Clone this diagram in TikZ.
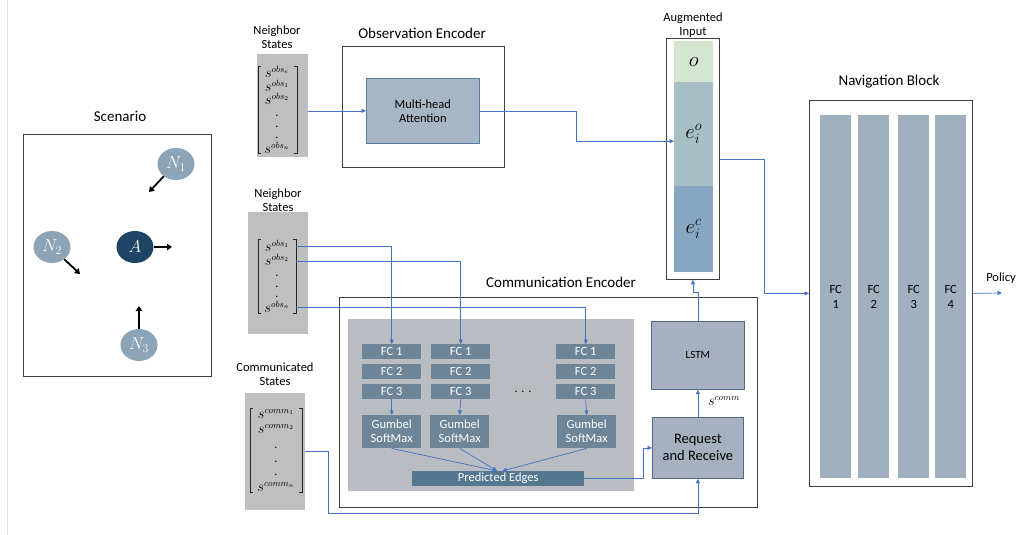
\documentclass[tikz,border=0pt]{standalone}
\usepackage{amsmath}
\usepackage{fontspec}
\setmainfont{Carlito}
\usetikzlibrary{arrows.meta,shapes.geometric}
\DeclareMathSizes{14}{14}{8.8}{6.5}
\definecolor{linkblue}{HTML}{4472C4}
\definecolor{boxline}{HTML}{404040}
\definecolor{stategray}{HTML}{BFBFBF}
\definecolor{regiongray}{HTML}{B9BDC1}
\definecolor{fcdark}{HTML}{6E8597}
\definecolor{pedark}{HTML}{557790}
\definecolor{navcol}{HTML}{A0B0BF}
\definecolor{attfill}{HTML}{A7B6C5}
\definecolor{attline}{HTML}{5B7BA6}
\definecolor{lstmfill}{HTML}{A7B0C0}
\definecolor{lstmline}{HTML}{4E6A8C}
\definecolor{nbfill}{HTML}{8DA3B6}
\definecolor{agentfill}{HTML}{1E4466}
\definecolor{augO}{HTML}{D4E5D0}
\definecolor{augEo}{HTML}{A9BFC6}
\definecolor{augEc}{HTML}{86A6C1}
\newcommand\fsT{\fontsize{15}{18}\selectfont}
\newcommand\fsL{\fontsize{12.5}{14}\selectfont}
\newcommand\fsLb{\fontsize{12.5}{15}\selectfont}
\newcommand\fsR{\fontsize{14.5}{17}\selectfont}
\newcommand\fsM{\fontsize{14}{14}\selectfont}
\newcommand\fsBig{\fontsize{17}{19}\selectfont}
\newcommand\fsAug{\fontsize{20}{22}\selectfont}
\newcommand\stv[2]{$s^{#1_{#2}}$}
\begin{document}
\begin{tikzpicture}[x=1pt,y=-1pt,
  lbl/.style={font=\fsL, align=center, inner sep=0},
  ttl/.style={font=\fsT, inner sep=0},
  panel/.style={draw=boxline, line width=0.8pt, inner sep=0, anchor=north west},
  graybox/.style={fill=stategray, inner sep=0, anchor=north west},
  link/.style={draw=linkblue, line width=0.7pt},
  arr/.style={link, -{Triangle[length=4.5pt,width=4pt]}},
  motion/.style={draw=black, line width=1.8pt, -{Triangle[length=5pt,width=6.5pt]}},
  nbnode/.style={ellipse, fill=nbfill, minimum width=37, minimum height=32, inner sep=0, text=white, font=\fsBig},
  agentnode/.style={ellipse, fill=agentfill, minimum width=37, minimum height=32, inner sep=0, text=white, font=\fsBig},
  fcbox/.style={fill=fcdark, text=white, font=\fsL, inner sep=0, anchor=north west, minimum width=59, minimum height=15},
  gsbox/.style={fill=fcdark, text=white, font=\fsL, align=center, inner sep=0, anchor=north west, minimum width=59, minimum height=33},
  navbox/.style={fill=navcol, font=\fsLb, align=center, inner sep=0, anchor=north west, minimum width=31, minimum height=363},
  seg/.style={inner sep=0, anchor=north west, minimum width=39, font=\fsAug},
  ent/.style={inner sep=0, font=\fsM},
  dotent/.style={inner sep=0, font=\fontsize{12}{12}\selectfont},
  brk/.style={draw=black!85, line width=0.9pt}
]
\useasboundingbox (0,0) rectangle (1030,535);
\fill[white] (0,0) rectangle (1030,535);
\draw[black!12, line width=0.8pt] (7,0) -- (7,535);

% ---------- Scenario ----------
\node[ttl] at (120,116) {Scenario};
\node[panel, minimum width=188, minimum height=242] (scen) at (23,134) {};
\node[nbnode] (n1) at (176,164) {$N_1$};
\node[agentnode] (a) at (135,247) {$A$};
\node[nbnode] (n2) at (52,247) {$N_2$};
\node[nbnode] (n3) at (139,345) {$N_3$};
\coordinate (n1t) at (149,192);
\coordinate (at) at (172,247);
\coordinate (n2t) at (80,274);
\coordinate (n3t) at (139,306);
\draw[motion] (n1.225) -- (n1t);
\draw[motion] (a.east) -- (at);
\draw[motion] (n2.-45) -- (n2t);
\draw[motion] (n3.north) -- (n3t);

% ---------- Neighbor states (top) ----------
\node[lbl] at (277,37) {Neighbor\\States};
\node[graybox, minimum width=51, minimum height=103] (nb1) at (257,54) {};
\draw[brk] (261,66) -- (258,66) -- (258,153) -- (261,153);
\draw[brk] (294,66) -- (297,66) -- (297,153) -- (294,153);
\node[ent] (e11) at (277,72) {\stv{obs}{e}};
\node[ent] (e12) at (277,86) {\stv{obs}{1}};
\node[ent] (e13) at (277,99) {\stv{obs}{2}};
\node[dotent] (e14) at (277,116) {.};
\node[dotent] (e15) at (277,127) {.};
\node[dotent] (e16) at (277,138) {.};
\node[ent] (e17) at (277,148) {\stv{obs}{n}};

% ---------- Observation encoder ----------
\node[ttl] at (422,33) {Observation Encoder};
\node[panel, minimum width=162, minimum height=121] (oe) at (342,46) {};
\node[fill=attfill, draw=attline, line width=0.7pt, font=\fsL, align=center, inner sep=0,
  anchor=north west, minimum width=113, minimum height=65] (att) at (366,78) {Multi-head\\Attention};
\draw[arr] (nb1.east |- att.west) -- (att.west);

% ---------- Augmented input ----------
\node[font=\fsL, align=center, inner sep=0] at (693,25.5) {Augmented\\Input};
\node[panel, minimum width=53, minimum height=241] (aug) at (666,38) {};
\node[seg, fill=augO, minimum height=41] (o) at (674,41) {$o$};
\node[seg, fill=augEo, minimum height=104] (eo) at (674,82) {$e_i^{o}$};
\node[seg, fill=augEc, minimum height=86] (ec) at (674,186) {$e_i^{c}$};
\draw[arr] (att.east) -- ++(97,0) |- ([yshift=-7pt]eo.west);

% ---------- Navigation block ----------
\node[ttl] at (889,82) {Navigation Block};
\node[panel, minimum width=163, minimum height=386] (nav) at (809,100) {};
\node[navbox] (fcA) at (820,115) {FC\\1};
\node[navbox] (fcB) at (858,115) {FC\\2};
\node[navbox] (fcC) at (898,115) {FC\\3};
\node[navbox] (fcD) at (935,115) {FC\\4};
\draw[arr] (aug.east) -- ++(45,0) |- (nav.west);
\node[lbl] at (1001,278) {Policy};
\coordinate (pol) at (1002,293);
\draw[arr] (nav.east) -- (pol);

% ---------- Neighbor states (bottom) ----------
\node[lbl] at (278,200) {Neighbor\\States};
\node[graybox, minimum width=60, minimum height=122] (nb2) at (248,212) {};
\draw[brk] (261,239) -- (258,239) -- (258,313) -- (261,313);
\draw[brk] (293,239) -- (296,239) -- (296,313) -- (293,313);
\node[ent] (e21) at (277,246) {\stv{obs}{1}};
\node[ent] (e22) at (277,260) {\stv{obs}{2}};
\node[dotent] (e23) at (277,276) {.};
\node[dotent] (e24) at (277,287) {.};
\node[dotent] (e25) at (277,297) {.};
\node[ent] (e26) at (277,307) {\stv{obs}{n}};

% ---------- Communicated states ----------
\node[lbl] at (275,374) {Communicated\\States};
\node[graybox, minimum width=60, minimum height=117] (cs) at (245,393) {};
\draw[brk] (253,408) -- (250,408) -- (250,492) -- (253,492);
\draw[brk] (299,408) -- (302,408) -- (302,492) -- (299,492);
\node[ent] (e31) at (276,414) {\stv{comm}{1}};
\node[ent] (e32) at (276,429) {\stv{comm}{2}};
\node[dotent] (e33) at (276,448) {.};
\node[dotent] (e34) at (276,462) {.};
\node[dotent] (e35) at (276,475) {.};
\node[ent] (e36) at (276,487) {\stv{comm}{n}};

% ---------- Communication encoder ----------
\node[ttl] at (561,282) {Communication Encoder};
\node[panel, minimum width=418, minimum height=210] (ce) at (339,297) {};
\node[fill=regiongray, inner sep=0, anchor=north west, minimum width=286, minimum height=172] (reg) at (348,319) {};

\node[fcbox] (f11) at (362,344) {FC 1};
\node[fcbox] (f12) at (362,364) {FC 2};
\node[fcbox] (f13) at (362,384) {FC 3};
\node[gsbox] (g1) at (362,415) {Gumbel\\SoftMax};
\node[fcbox] (f21) at (431,344) {FC 1};
\node[fcbox] (f22) at (431,364) {FC 2};
\node[fcbox] (f23) at (431,384) {FC 3};
\node[gsbox] (g2) at (430,415) {Gumbel\\SoftMax};
\node[fcbox] (f31) at (556,344) {FC 1};
\node[fcbox] (f32) at (556,364) {FC 2};
\node[fcbox] (f33) at (556,384) {FC 3};
\node[gsbox] (g3) at (557,415) {Gumbel\\SoftMax};
\node[font=\fsL, inner sep=0] (dots) at (523,392) {. . .};
\node[fill=pedark, text=white, font=\fsL, inner sep=0, anchor=north west,
  minimum width=172, minimum height=15] (pe) at (412,471) {Predicted Edges};

\draw[arr] (f13.south) -- (g1.north);
\draw[arr] (f23.south) -- (g2.north);
\draw[arr] (f33.south) -- (g3.north);
\draw[arr] (g1.south) -- ([xshift=-1pt]pe.north);
\draw[arr] (g2.south) -- ([xshift=-1pt]pe.north);
\draw[arr] (g3.south) -- ([xshift=4pt]pe.north);

\coordinate (r1) at (296,246);
\coordinate (r2) at (296,261);
\coordinate (rn) at (296,307);
\draw[arr] (r1) -| (f11.north);
\draw[arr] (r2) -| (f21.north);
\draw[arr] (rn) -| (f31.north);

\node[fill=lstmfill, draw=lstmline, line width=0.7pt, font=\fontsize{11}{13}\selectfont, inner sep=0,
  anchor=north west, minimum width=93, minimum height=68] (lstm) at (651,321) {LSTM};
\node[fill=lstmfill, draw=lstmline, line width=0.7pt, font=\fsR, align=center, inner sep=0,
  anchor=north west, minimum width=91, minimum height=61] (req) at (652,417) {Request\\and Receive};
\node[font=\fsM, inner sep=0] at (724,401) {$s^{comm}$};

\draw[arr] (req.north) -- (lstm.south);
\draw[arr] (lstm.north) -- (lstm.north |- 0,292) -| (aug.south);
\draw[arr] (pe.east) -- ++(59,0) |- (req.west);
\draw[arr] (cs.east) -- ++(23,0) |- ([yshift=-35pt]req.south) -- (req.south);
\end{tikzpicture}
\end{document}
